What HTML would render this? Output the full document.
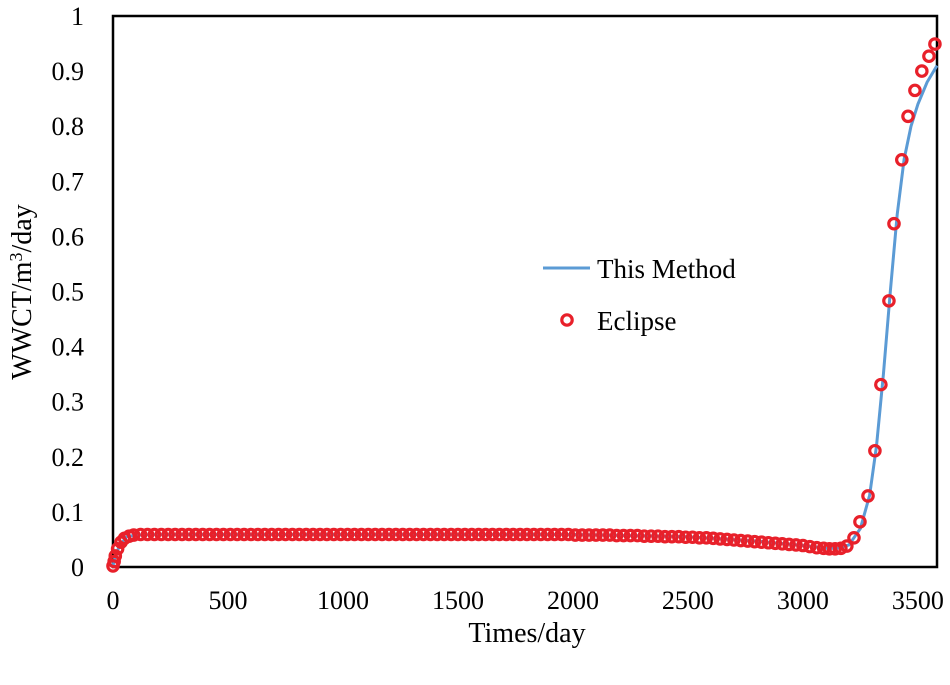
<!DOCTYPE html>
<html><head><meta charset="utf-8"><style>
body{margin:0;background:#fff}
svg text{font-family:"Liberation Serif",serif;fill:#000}
</style></head><body>
<svg id="c" width="950" height="680"></svg>
<script>
const ticksX=[0,500,1000,1500,2000,2500,3000,3500];
const ticksY=[0,0.1,0.2,0.3,0.4,0.5,0.6,0.7,0.8,0.9,1];
const tickLabelsY=["0","0.1","0.2","0.3","0.4","0.5","0.6","0.7","0.8","0.9","1"];
const eclDays=[0,5,10,20,35,50,70,90,
120,150,180,210,240,270,300,330,360,390,420,450,480,510,540,570,600,630,660,690,720,750,780,810,840,870,900,930,960,990,
1020,1050,1080,1110,1140,1170,1200,1230,1260,1290,1320,1350,1380,1410,1440,1470,1500,1530,1560,1590,1620,1650,1680,1710,1740,1770,1800,1830,1860,1890,1920,1950,1980,
2010,2040,2070,2100,2130,2160,2190,2220,2250,2280,2310,2340,2370,2400,2430,2460,2490,2520,2550,2580,2610,2640,2670,2700,2730,2760,2790,2820,2850,2880,2910,2940,2970,3000,
3030,3060,3090,3115,3140,3165,3191,3222,3248,3283,3313,3339,3374,3396,3430,3457,3487,3517,3548,3574];
const eclVals=[0.002,0.01,0.02,0.033,0.045,0.052,0.056,0.058,
0.059,0.059,0.059,0.059,0.059,0.059,0.059,0.059,0.059,0.059,0.059,0.059,0.059,0.059,0.059,0.059,0.059,0.059,0.059,0.059,0.059,0.059,0.059,0.059,0.059,0.059,0.059,0.059,0.059,0.059,
0.059,0.059,0.059,0.059,0.059,0.059,0.059,0.059,0.059,0.059,0.059,0.059,0.059,0.059,0.059,0.059,0.059,0.059,0.059,0.059,0.059,0.059,0.059,0.059,0.059,0.059,0.059,0.059,0.059,0.059,0.059,0.059,0.059,
0.058,0.058,0.058,0.058,0.058,0.058,0.057,0.057,0.057,0.057,0.056,0.056,0.056,0.055,0.055,0.055,0.054,0.054,0.053,0.053,0.052,0.051,0.050,0.049,0.048,0.047,0.046,0.045,0.044,0.043,0.042,0.041,0.040,0.039,
0.037,0.035,0.034,0.033,0.033,0.034,0.038,0.053,0.082,0.129,0.211,0.331,0.483,0.623,0.739,0.818,0.865,0.9,0.927,0.949];
const lineDays=[0,10,30,60,100,200,1000,2000,2500,2800,3000,3100,3150,3200,3250,3290,3320,3350,3380,3410,3440,3470,3500,3540,3583];
const lineVals=[0.002,0.02,0.04,0.055,0.058,0.059,0.059,0.059,0.055,0.047,0.039,0.034,0.034,0.04,0.07,0.13,0.22,0.35,0.5,0.64,0.74,0.8,0.84,0.88,0.91];
const L=113,R=937,T=16,B=567,XMAX=3583;
const sx=v=>L+v/XMAX*(R-L), sy=v=>B-v*(B-T);
const svg=document.getElementById('c'),NS='http://www.w3.org/2000/svg';
function mk(t,a,p){const e=document.createElementNS(NS,t);for(const k in a)e.setAttribute(k,a[k]);(p||svg).appendChild(e);return e;}
ticksX.forEach(v=>{const t=mk('text',{x:sx(v),y:609,'text-anchor':'middle','font-size':26});t.textContent=v;

});
ticksY.forEach((v,i)=>{const t=mk('text',{x:84,y:sy(v)+9,'text-anchor':'end','font-size':26});t.textContent=tickLabelsY[i];

});
const fr=mk('rect',{x:L,y:T,width:R-L,height:B-T,fill:'none',stroke:'#000','stroke-width':2.5});


const ln=mk('path',{d:lineDays.map((d,i)=>(i?'L':'M')+sx(d)+','+sy(lineVals[i])).join(''),fill:'none',stroke:'#5b9bd5','stroke-width':3});


eclDays.forEach((d,i)=>{const c=mk('circle',{cx:sx(d),cy:sy(eclVals[i]),r:5.2,fill:'none',stroke:'#e8202a','stroke-width':3.2});

});
const l1=mk('line',{x1:543,y1:268,x2:590,y2:268,stroke:'#5b9bd5','stroke-width':3});


const t1=mk('text',{x:597,y:278,'font-size':27});t1.textContent='This Method';


const c1=mk('circle',{cx:567,cy:320,r:5.2,fill:'none',stroke:'#e8202a','stroke-width':3.2});


const t2=mk('text',{x:597,y:330,'font-size':27});t2.textContent='Eclipse';


const xt=mk('text',{x:527,y:642,'text-anchor':'middle','font-size':28});xt.textContent='Times/day';


const yt=mk('text',{x:0,y:0,'text-anchor':'middle','font-size':28,transform:'translate(31,292) rotate(-90)'});
yt.innerHTML='WWCT/m<tspan dy="-9" font-size="18">3</tspan><tspan dy="9">/day</tspan>';


</script>
</body></html>
